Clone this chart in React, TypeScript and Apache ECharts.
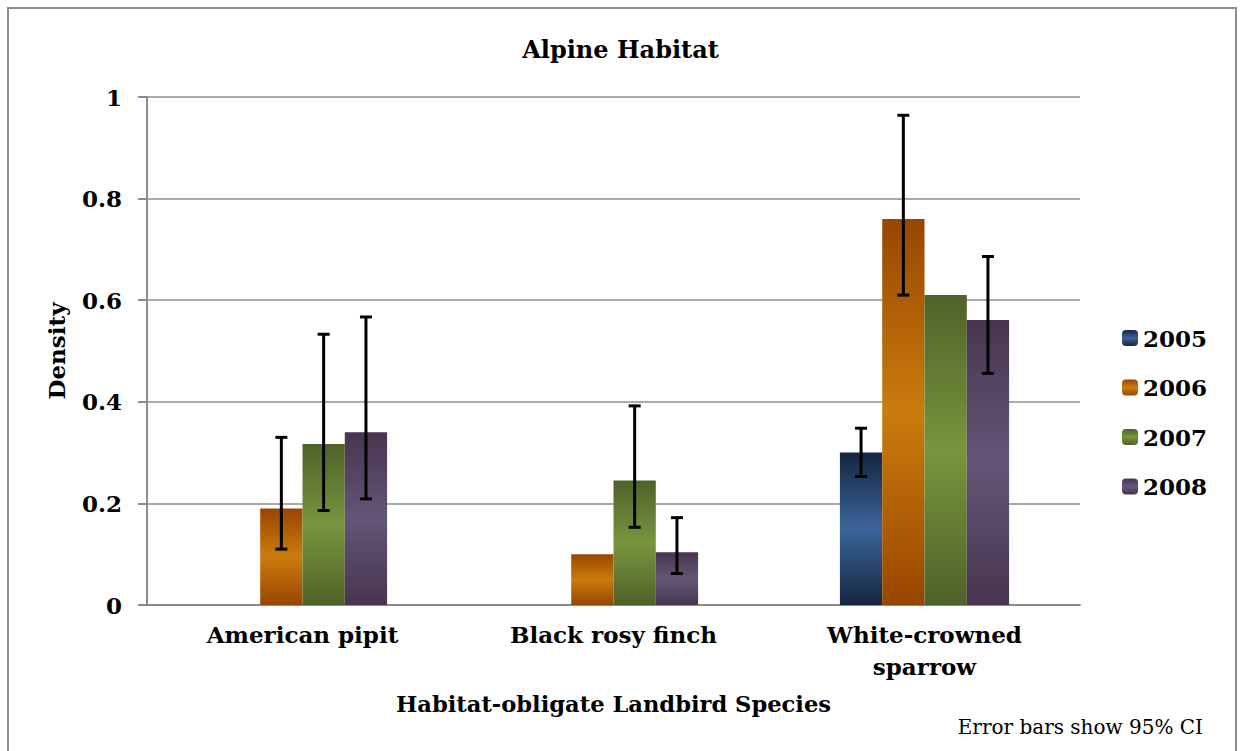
import React, { useEffect, useRef } from 'react';
import * as echarts from 'echarts';

const categories = ['American pipit', 'Black rosy finch', 'White-crowned\nsparrow'];
const years = ['2005', '2006', '2007', '2008'];

const density2005 = [null, null, 0.3];
const density2006 = [0.19, 0.1, 0.76];
const density2007 = [0.317, 0.245, 0.61];
const density2008 = [0.34, 0.104, 0.561];

const ciLow2005 = [null, null, 0.253];
const ciHigh2005 = [null, null, 0.348];
const ciLow2006 = [0.11, null, 0.61];
const ciHigh2006 = [0.33, null, 0.964];
const ciLow2007 = [0.186, 0.153, null];
const ciHigh2007 = [0.533, 0.392, null];
const ciLow2008 = [0.209, 0.062, 0.456];
const ciHigh2008 = [0.567, 0.172, 0.686];

const yTicks = [0, 0.2, 0.4, 0.6, 0.8, 1];

const GAP = 0.456;
const FONT = '"DejaVu Serif", "Liberation Serif", serif';

const palette = [
  { dark: '#15263f', light: '#3a659a' },
  { dark: '#984600', light: '#c97c0e' },
  { dark: '#4f6228', light: '#78953e' },
  { dark: '#48344f', light: '#635677' },
];

function grad(c: { dark: string; light: string }) {
  return new echarts.graphic.LinearGradient(0, 0, 0, 1, [
    { offset: 0, color: c.dark },
    { offset: 0.5, color: c.light },
    { offset: 1, color: c.dark },
  ]);
}

export default function App() {
  const ref = useRef<HTMLDivElement>(null);
  useEffect(() => {
    if (!ref.current) return;
    const chart = echarts.init(ref.current, null, { renderer: 'svg' });
    const densities = [density2005, density2006, density2007, density2008];
    const lows = [ciLow2005, ciLow2006, ciLow2007, ciLow2008];
    const highs = [ciHigh2005, ciHigh2006, ciHigh2007, ciHigh2008];
    const errData: number[][] = [];
    lows.forEach((lo, s) => {
      lo.forEach((v, c) => {
        if (v != null && highs[s][c] != null) errData.push([c, s, v as number, highs[s][c] as number]);
      });
    });
    const bars = years.map((y, i) => ({
      name: y,
      type: 'bar',
      data: densities[i],
      barGap: '0%',
      barCategoryGap: (GAP * 100) + '%',
      itemStyle: { color: grad(palette[i]) },
    }));
    chart.setOption({
      animation: false,
      backgroundColor: '#fff',
      title: {
        text: 'Alpine Habitat',
        left: 'center',
        top: 32,
        textStyle: { fontFamily: FONT, fontWeight: 'bold', fontSize: 24, color: '#000' },
      },
      legend: {
        data: years,
        orient: 'vertical',
        left: 1122,
        top: 323,
        padding: 0,
        itemWidth: 16,
        itemHeight: 16,
        itemGap: 19.5,
        textStyle: { fontFamily: FONT, fontWeight: 'bold', fontSize: 23, color: '#000', lineHeight: 30 },
      },
      grid: { left: 147, right: 161, top: 97, bottom: 146, containLabel: false },
      xAxis: {
        type: 'category',
        data: categories,
        name: 'Habitat-obligate Landbird Species',
        nameLocation: 'middle',
        nameGap: 87,
        nameTextStyle: { fontFamily: FONT, fontWeight: 'bold', fontSize: 22.6, color: '#000' },
        axisLine: { lineStyle: { color: '#8c8c8c', width: 2 } },
        axisTick: { show: false },
        axisLabel: { fontFamily: FONT, fontWeight: 'bold', fontSize: 23, color: '#000', margin: 13, lineHeight: 32 },
      },
      yAxis: {
        type: 'value',
        min: yTicks[0],
        max: yTicks[yTicks.length - 1],
        interval: 0.2,
        name: 'Density',
        nameLocation: 'middle',
        nameRotate: 90,
        nameGap: 79,
        nameTextStyle: { fontFamily: FONT, fontWeight: 'bold', fontSize: 23, color: '#000' },
        axisLine: { show: true, lineStyle: { color: '#8c8c8c', width: 2 } },
        axisTick: { show: true, length: 9, lineStyle: { color: '#8c8c8c', width: 2 } },
        splitLine: { lineStyle: { color: '#8c8c8c', width: 1.5 } },
        axisLabel: { fontFamily: FONT, fontWeight: 'bold', fontSize: 23, color: '#000', margin: 25 },
      },
      series: [
        ...bars,
        {
          type: 'custom',
          name: 'CI',
          z: 10,
          data: errData,
          encode: { x: 0, y: [2, 3] },
          renderItem: (params: any, api: any) => {
            const cat = api.value(0);
            const s = api.value(1);
            const lo = api.value(2);
            const hi = api.value(3);
            const catW = api.size([1, 0])[0];
            const barW = (catW * (1 - GAP)) / 4;
            const cx = api.coord([cat, 0])[0] + (s - 1.5) * barW;
            const yLo = api.coord([cat, lo])[1];
            const yHi = api.coord([cat, hi])[1];
            const cap = 6;
            const style = { stroke: '#000', lineWidth: 3 };
            return {
              type: 'group',
              children: [
                { type: 'line', shape: { x1: cx, y1: yLo, x2: cx, y2: yHi }, style },
                { type: 'line', shape: { x1: cx - cap, y1: yHi, x2: cx + cap, y2: yHi }, style },
                { type: 'line', shape: { x1: cx - cap, y1: yLo, x2: cx + cap, y2: yLo }, style },
              ],
            };
          },
        },
      ],
      graphic: [
        {
          type: 'rect',
          shape: { x: 8, y: 8, width: 1228, height: 800 },
          style: { fill: 'none', stroke: '#8c8c8c', lineWidth: 2 },
          silent: true,
        },
        {
          type: 'text',
          x: 1203,
          y: 727,
          style: {
            text: 'Error bars show 95% CI',
            fontFamily: FONT,
            fontSize: 20,
            fill: '#000',
            align: 'right',
            verticalAlign: 'middle',
          },
        },
      ],
    });
    return () => chart.dispose();
  }, []);
  return <div ref={ref} style={{ position: 'fixed', left: 0, top: 0, width: 1241, height: 751 }} />;
}
